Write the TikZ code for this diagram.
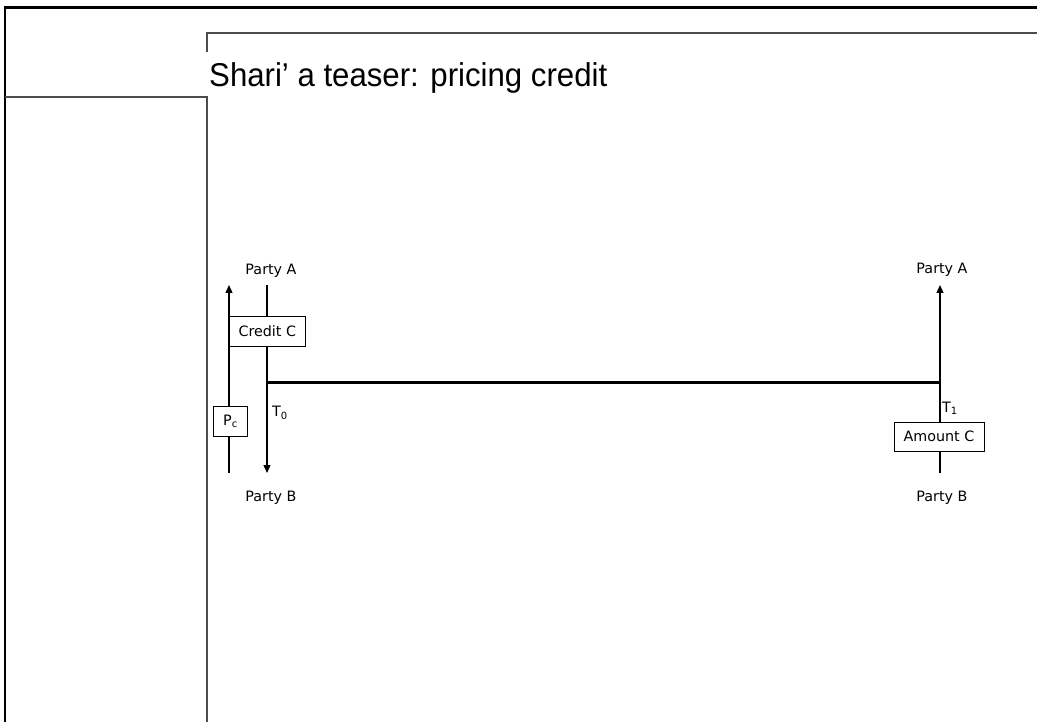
\documentclass[tikz,border=0pt]{standalone}
\usepackage{fontspec}
\setmainfont{DejaVu Sans}
\newfontfamily\titlefont{Liberation Sans}
\usetikzlibrary{arrows.meta}
\tikzset{
  frameline/.style={line width=2.4pt, black},
  innerline/.style={line width=1.4pt, black!70},
  flow/.style={line width=1.3pt, black},
  flowarrow/.style={flow, -{Triangle[width=7pt,length=8pt]}},
  lbl/.style={font=\fontsize{14.3}{16}\selectfont, inner sep=0pt},
  box/.style={draw, line width=0.8pt, fill=white, font=\fontsize{14.3}{16}\selectfont, inner sep=0pt}
}
\begin{document}
\begin{tikzpicture}[x=1pt,y=-1pt]
\useasboundingbox (0,0) rectangle (1037,722);
% frame
\coordinate (ftl) at (5,7.5);
\coordinate (ftr) at (1037,7.5);
\coordinate (fbl) at (5,722);
\draw[frameline] (fbl) -- (ftl) -- (ftr);
\coordinate (itl) at (207,33);
\coordinate (itr) at (1037,33);
\coordinate (itb) at (207,52);
\draw[innerline] (itb) -- (itl) -- (itr);
\coordinate (ll) at (5,97);
\coordinate (lr) at (207,97);
\coordinate (lb) at (207,722);
\draw[innerline] (ll) -- (lr) -- (lb);
% title
\node[anchor=base west, inner sep=0pt, font=\titlefont\fontsize{33}{38}\selectfont] (title) at (209,87) {\scalebox{0.945}[1]{Shari’ a teaser: pricing credit}};
% coordinates
\coordinate (upL0) at (229,473);
\coordinate (upL1) at (229,285);
\coordinate (dnL0) at (267,285);
\coordinate (dnL1) at (267,473);
\coordinate (t0) at (267,382.5);
\coordinate (t1) at (940,382.5);
\coordinate (upR1) at (940,285);
\coordinate (dnR1) at (940,473);
% labels
\node[lbl] (pA1) at (271,271) {Party A};
\node[lbl] (pB1) at (271,498) {Party B};
\node[lbl] (pA2) at (942,270) {Party A};
\node[lbl] (pB2) at (942,497.5) {Party B};
% flows
\draw[flowarrow] (upL0) -- (upL1);
\draw[flowarrow] (dnL0) -- (dnL1);
\draw[line width=3.8pt] (t0) -- (t1);
% boxes
\node[box, minimum width=76pt, minimum height=30pt] (credit) at (267.3,331) {Credit C};
\node[box, minimum width=34pt, minimum height=30pt] (pc) at (230.5,421.7) {P\textsubscript{c}};
\node[box, minimum width=90pt, minimum height=29pt] (amount) at (939,436.4) {Amount C};
\draw[flowarrow] (amount.north -| t1) -- (upR1);
\draw[flow] (amount.south -| t1) -- (dnR1);
% time labels
\node[lbl, anchor=west] (T0) at (272,413) {T\textsubscript{0}};
\node[lbl, anchor=west] (T1) at (942,408) {T\textsubscript{1}};
\end{tikzpicture}
\end{document}
